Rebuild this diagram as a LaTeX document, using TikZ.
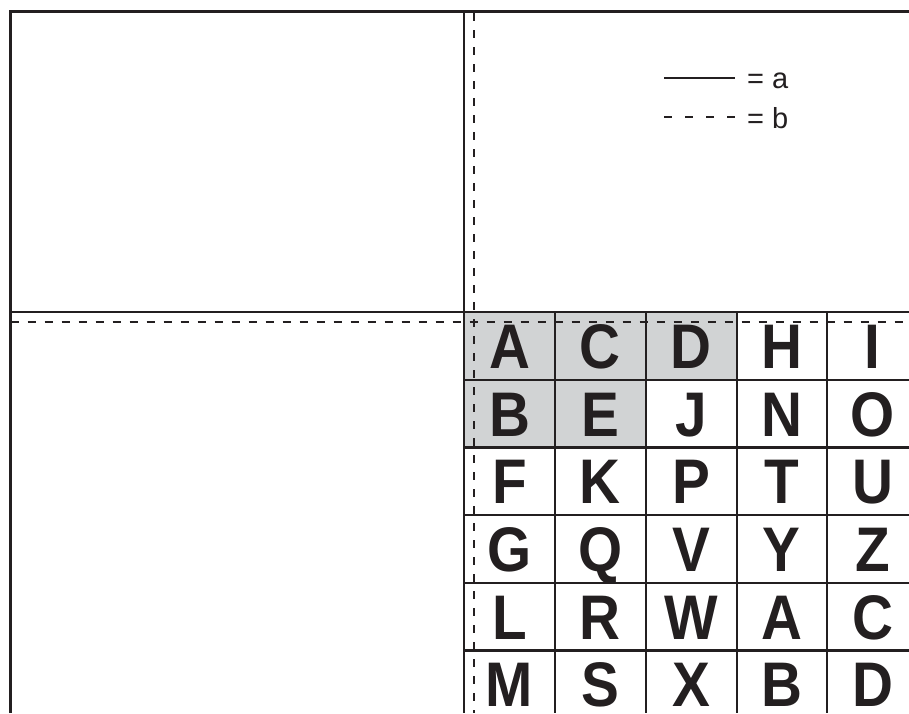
\documentclass[tikz,border=0pt]{standalone}
\usepackage{fontspec}
\setmainfont{Liberation Sans}
\newfontfamily\gridfont[FakeStretch=0.9]{Liberation Sans}
\definecolor{ink}{HTML}{231F20}
\definecolor{cellgrey}{HTML}{D1D3D4}
\begin{document}
\begin{tikzpicture}[x=1pt,y=-1pt,
  solidline/.style={draw=ink,line width=2.4pt},
  dashline/.style={draw=ink,line width=2.4pt,dash pattern=on 8pt off 9pt},
  legdash/.style={draw=ink,line width=2.4pt,dash pattern=on 8pt off 13pt},
  letter/.style={font=\gridfont\fontsize{63}{63}\selectfont\bfseries,text=ink,inner sep=0pt,
    text height=45pt,text depth=0pt,anchor=center},
  legtext/.style={font=\fontsize{29}{29}\selectfont,text=ink,anchor=base west,inner sep=0pt}]
\useasboundingbox (0,0) rectangle (909,713);
\clip (0,0) rectangle (909,713);
% shaded cells
\fill[cellgrey] (464,312) rectangle (737,380);
\fill[cellgrey] (464,380) rectangle (646,447.5);
% outer frame and quadrant lines
\draw[solidline] (10.5,713) -- (10.5,11.5) -- (909,11.5);
\draw[solidline] (464,11.5) -- (464,713);
\draw[solidline] (10.5,312) -- (909,312);
% grid
\foreach \y in {380,447.5,515,583,650.5} \draw[solidline] (464,\y) -- (909,\y);
\foreach \x in {555,646,737,827} \draw[solidline] (\x,312) -- (\x,713);
% dashed lines
\draw[dashline] (474,13) -- (474,713);
\draw[dashline] (10.5,322) -- (909,322);
% letters
\foreach \r/\yc/\row in {1/346/{A,C,D,H,I},2/413.75/{B,E,J,N,O},3/481.25/{F,K,P,T,U},
                         4/549/{G,Q,V,Y,Z},5/616.75/{L,R,W,A,C},6/684.25/{M,S,X,B,D}}{
  \foreach \ch [count=\c] in \row {
    \pgfmathsetmacro{\xc}{509.5+90.75*(\c-1)}
    \node[letter] (L-\r-\c) at (\xc,\yc) {\ch};
  }
}
% legend
\coordinate (sa) at (664,78);
\coordinate (sb) at (735,78);
\coordinate (da) at (664,117);
\coordinate (db) at (735,117);
\draw[solidline] (sa) -- (sb);
\draw[legdash] (da) -- (db);
\node[legtext] (la) at (747,88) {= a};
\node[legtext] (lb) at (747,128) {= b};
\end{tikzpicture}
\end{document}
